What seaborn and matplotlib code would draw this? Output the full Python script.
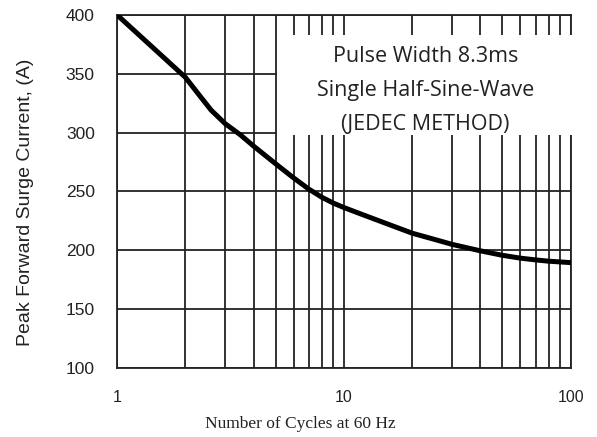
import matplotlib
matplotlib.use("Agg")
import matplotlib.pyplot as plt
from matplotlib.patches import Rectangle
from matplotlib.ticker import FixedLocator, NullFormatter
import seaborn as sns
import pandas as pd

cycles = [1, 1.5, 2, 2.3, 2.6, 3, 3.5, 4, 5, 6, 7, 8, 9, 10, 12, 15, 20, 25, 30, 40, 50, 60, 70, 80, 100]
current = [400, 369, 347, 332, 319, 307.5, 298, 288.5, 273.5, 261.5, 252, 245, 240, 236.3, 230.5, 223.5,
           214.5, 209.3, 205, 199.5, 195.7, 193.3, 191.8, 190.7, 189.5]
x_ticks = [1, 10, 100]
x_tick_labels = ["1", "10", "100"]
y_ticks = [100, 150, 200, 250, 300, 350, 400]
box_lines = ["Pulse Width 8.3ms", "Single Half-Sine-Wave", "(JEDEC METHOD)"]

sns.set_style("white")
plt.rcParams['font.family'] = ['Liberation Sans', 'DejaVu Sans']

fig = plt.figure(figsize=(5.97, 4.37), dpi=100)
ax = fig.add_axes([0.196, 0.158, 0.760, 0.808])

df = pd.DataFrame({"cycles": cycles, "current": current})
sns.lineplot(data=df, x="cycles", y="current", ax=ax, color="black", linewidth=3.6, zorder=4)
ax.get_lines()[0].set_solid_joinstyle("round")

ax.set_xscale("log")
ax.set_xlim(1, 100)
ax.set_ylim(100, 400)
ax.set_xticks(x_ticks)
ax.set_xticklabels(x_tick_labels)
minor = [m * d for d in (1, 10) for m in range(2, 10)]
ax.xaxis.set_minor_locator(FixedLocator(minor))
ax.xaxis.set_minor_formatter(NullFormatter())
ax.set_yticks(y_ticks)
ax.grid(True, which="both", axis="x", color="#222222", linewidth=1.3, zorder=1)
ax.grid(True, which="major", axis="y", color="#222222", linewidth=1.3, zorder=1)
ax.set_axisbelow(True)
for s in ax.spines.values():
    s.set_color("#222222")
    s.set_linewidth(1.3)
ax.tick_params(axis="both", which="both", length=0)
ax.tick_params(axis="y", labelsize=12.5, pad=16, labelcolor="#222222")
ax.tick_params(axis="x", labelsize=11.5, pad=16, labelcolor="#222222")

ax.set_ylabel("Peak Forward Surge Current, (A)", fontsize=14, color="#222222")
ax.yaxis.set_label_coords(-0.182, 0.469)
ax.set_xlabel("Number of Cycles at 60 Hz", fontsize=12.5, color="#222222",
              family=["Liberation Serif", "DejaVu Serif"])
ax.xaxis.set_label_coords(0.405, -0.137)

rect = Rectangle((0.352, 0.66), 0.66, 0.283, transform=ax.transAxes,
                 facecolor="white", edgecolor="none", zorder=5, clip_on=False)
ax.add_patch(rect)
for i, t in enumerate(box_lines):
    ax.text(0.68, 0.882 - i * 0.096, t, transform=ax.transAxes, ha="center", va="center",
            fontsize=15.5, color="#222222", family=["Open Sans", "DejaVu Sans"], zorder=6)

fig.savefig("out.png", dpi=100)
